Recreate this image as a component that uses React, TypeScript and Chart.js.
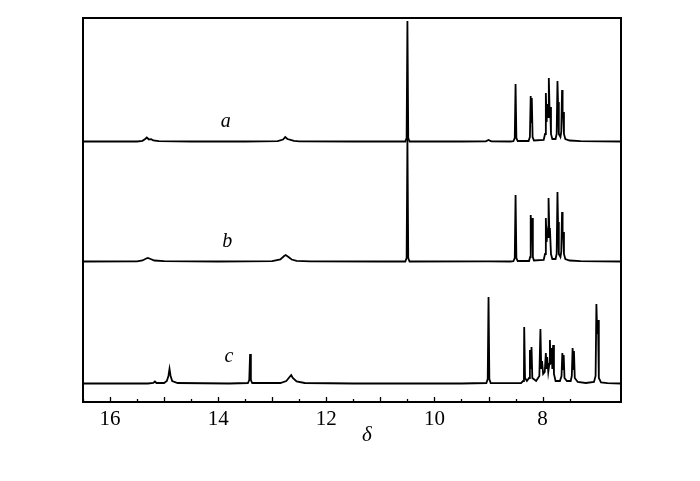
import React, { useEffect, useRef } from "react";
import { Chart, registerables } from "chart.js";

Chart.register(...registerables);

// x axis range (ppm), reversed
const X_MIN = 6.55;
const X_MAX = 16.5;
const tickLabels = [16, 14, 12, 10, 8];
const axisTitle = "δ";
const traceLabels = ["a", "b", "c"];
const labelShift = [13.86, 13.83, 13.8];
const labelLift = [20, 20, 27];
const offsets = [242, 122, 0];

// [δ, intensity]
const spectrumA: [number, number][] = [
  [16.55, 0.5], [15.5, 0.5], [15.4, 1.2], [15.35, 3], [15.32, 4.5], [15.28, 2.5], [15.24, 2.8], [15.2, 1.5], [15.1, 0.8],
  [14.5, 0.5], [13.5, 0.5], [12.9, 0.8], [12.8, 2.5], [12.76, 5], [12.72, 3], [12.66, 2.2], [12.6, 1.2], [12.5, 0.6],
  [11.5, 0.5], [10.54, 0.5], [10.515, 4], [10.5, 121], [10.485, 4], [10.46, 0.5], [9.5, 0.5], [9.05, 0.6], [9.0, 2],
  [8.95, 0.6], [8.6, 0.5], [8.54, 0.8], [8.515, 4], [8.5, 58], [8.485, 4], [8.46, 1], [8.26, 1], [8.235, 5], [8.22, 46],
  [8.21, 20], [8.2, 44], [8.185, 5], [8.16, 1.5], [7.98, 2], [7.955, 8], [7.94, 49], [7.925, 20], [7.915, 38], [7.9, 25],
  [7.885, 64], [7.87, 30], [7.86, 35], [7.845, 8], [7.82, 3], [7.76, 3], [7.74, 8], [7.725, 61], [7.715, 40], [7.7, 8],
  [7.67, 5], [7.655, 10], [7.64, 52], [7.63, 25], [7.62, 30], [7.605, 8], [7.58, 3], [7.5, 1.5], [7.3, 0.8], [6.55, 0.5],
];

const spectrumB: [number, number][] = [
  [16.55, 0.5], [15.5, 0.6], [15.4, 1.5], [15.33, 3.5], [15.3, 4], [15.25, 3], [15.18, 1.5], [15.0, 0.8], [14.0, 0.5],
  [13.0, 0.8], [12.85, 2.5], [12.78, 6], [12.75, 7], [12.7, 5], [12.64, 2.5], [12.55, 1.2], [12.3, 0.6], [11.0, 0.5],
  [10.54, 0.5], [10.515, 4], [10.5, 124], [10.485, 4], [10.46, 0.5], [9.0, 0.6], [8.6, 0.5], [8.54, 0.8], [8.515, 4],
  [8.5, 67], [8.485, 4], [8.46, 1], [8.25, 1], [8.23, 5], [8.22, 47], [8.205, 25], [8.195, 44], [8.18, 5], [8.16, 1.5],
  [7.98, 2], [7.955, 8], [7.94, 44], [7.925, 20], [7.915, 30], [7.9, 25], [7.89, 64], [7.875, 30], [7.865, 34],
  [7.845, 8], [7.82, 3], [7.76, 3], [7.74, 8], [7.725, 70], [7.715, 40], [7.7, 8], [7.67, 5], [7.655, 10], [7.64, 50],
  [7.63, 25], [7.62, 30], [7.605, 8], [7.58, 3], [7.5, 1.5], [7.3, 0.8], [6.55, 0.5],
];

const spectrumC: [number, number][] = [
  [16.55, 0.5], [15.3, 0.5], [15.2, 1], [15.17, 2.5], [15.14, 1], [15.0, 1], [14.95, 3], [14.92, 8], [14.9, 15],
  [14.88, 8], [14.85, 3], [14.75, 1], [13.8, 0.5], [13.45, 1], [13.425, 4], [13.41, 30], [13.395, 4], [13.37, 1],
  [12.85, 1], [12.74, 3], [12.68, 7], [12.65, 9], [12.62, 6], [12.55, 2.5], [12.4, 1], [11.5, 0.5], [9.5, 0.5],
  [9.04, 1], [9.015, 5], [9.0, 87], [8.985, 5], [8.96, 1], [8.4, 0.8], [8.36, 3], [8.345, 8], [8.34, 57], [8.325, 6],
  [8.29, 3], [8.25, 6], [8.235, 34], [8.22, 15], [8.205, 37], [8.19, 6], [8.12, 3], [8.06, 8], [8.04, 55], [8.025, 15],
  [8.01, 23], [7.99, 10], [7.96, 12], [7.94, 31], [7.925, 15], [7.915, 27], [7.895, 12], [7.875, 20], [7.865, 44],
  [7.85, 20], [7.835, 36], [7.82, 15], [7.805, 39], [7.79, 10], [7.76, 3], [7.68, 3], [7.65, 8], [7.635, 31], [7.62, 15],
  [7.61, 29], [7.595, 6], [7.55, 3], [7.48, 3], [7.46, 8], [7.445, 36], [7.43, 15], [7.42, 33], [7.405, 6], [7.35, 2],
  [7.2, 1], [7.05, 2], [7.02, 8], [7.005, 80], [6.99, 50], [6.975, 64], [6.96, 6], [6.92, 1.5], [6.8, 0.8], [6.55, 0.5],
];

const series = [spectrumA, spectrumB, spectrumC];

const framePlugin = {
  id: "frame",
  afterDraw(chart: any) {
    const { ctx, chartArea } = chart;
    const xs = chart.scales.x;
    const ys = chart.scales.y;
    ctx.save();
    ctx.strokeStyle = "#000";
    ctx.lineWidth = 2;
    ctx.strokeRect(chartArea.left, chartArea.top, chartArea.right - chartArea.left, chartArea.bottom - chartArea.top);
    ctx.lineWidth = 1.3;
    for (const t of xs.ticks) {
      const v = t.value;
      if (Math.abs(v * 2 - Math.round(v * 2)) > 1e-6) continue;
      const major = Math.abs(v - Math.round(v)) < 1e-6;
      const len = major ? 5 : 3;
      const px = Math.round(xs.getPixelForValue(v)) + 0.5;
      ctx.beginPath();
      ctx.moveTo(px, chartArea.bottom);
      ctx.lineTo(px, chartArea.bottom - len);
      ctx.stroke();
    }
    ctx.fillStyle = "#000";
    ctx.textAlign = "center";
    ctx.textBaseline = "middle";
    ctx.font = "italic 20px 'Liberation Serif', serif";
    traceLabels.forEach((lab, i) => {
      ctx.fillText(lab, xs.getPixelForValue(labelShift[i]), ys.getPixelForValue(offsets[i] + labelLift[i]));
    });
    ctx.font = "italic 21px 'Liberation Serif', serif";
    ctx.fillText(axisTitle, (chartArea.left + chartArea.right) / 2 + 15, chartArea.bottom + 33);
    ctx.restore();
  },
};

export default function App() {
  const ref = useRef<HTMLCanvasElement>(null);
  useEffect(() => {
    document.body.style.margin = "0";
    const chart = new Chart(ref.current!, {
      type: "line",
      data: {
        datasets: series.map((s, i) => ({
          label: traceLabels[i],
          data: s.map(([x, y]) => ({ x, y: y + offsets[i] })),
          borderColor: "#000",
          borderWidth: 1.8,
          pointRadius: 0,
          tension: 0,
          fill: false,
        })),
      },
      options: {
        animation: false,
        responsive: false,
        maintainAspectRatio: false,
        layout: { padding: { left: 83, right: 79, top: 18, bottom: 0 } },
        plugins: { legend: { display: false }, tooltip: { enabled: false } },
        scales: {
          x: {
            type: "linear",
            reverse: true,
            min: X_MIN,
            max: X_MAX,
            grid: { display: false, drawTicks: false },
            border: { display: false },
            ticks: {
              stepSize: 0.5,
              autoSkip: false,
              maxRotation: 0,
              padding: 5,
              color: "#000",
              font: { family: "'Liberation Serif', serif", size: 21 },
              callback: (v: any) => (tickLabels.includes(Number(v)) ? String(v) : ""),
            },
            afterFit: (s: any) => {
              s.height = 79;
            },
          },
          y: { display: false, min: -18, max: 366 },
        },
      },
      plugins: [framePlugin],
    });
    return () => chart.destroy();
  }, []);
  return <canvas ref={ref} width={700} height={481} style={{ display: "block" }} />;
}
